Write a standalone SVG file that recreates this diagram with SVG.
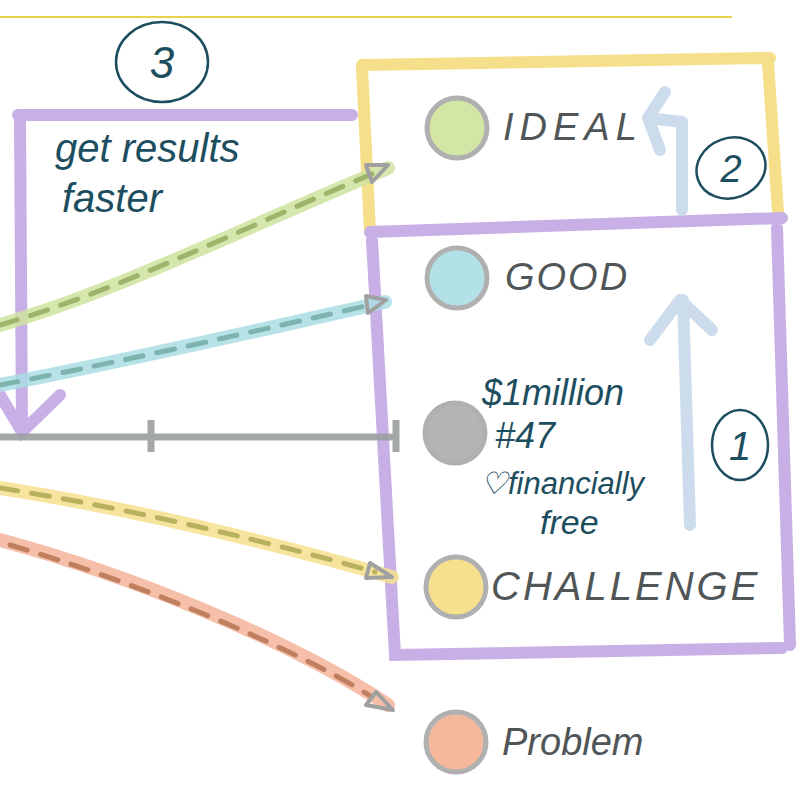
<svg xmlns="http://www.w3.org/2000/svg" width="800" height="800" viewBox="0 0 800 800">
<style>
.hand{font-family:"Liberation Sans",Arial,sans-serif;font-style:italic;fill:#505558}
.note{font-family:"Liberation Sans",Arial,sans-serif;font-style:italic;fill:#1d4e5f}
.dot{stroke:#b0b0b0;stroke-width:5}
.ink{fill:none;stroke:#1d4e5f;stroke-width:2.5}
.band{fill:none;stroke-width:14;stroke-linecap:round;opacity:0.85}
.dash{fill:none;stroke-width:5;stroke-dasharray:18 14;stroke-linecap:round}
.head{fill:none;stroke:#a0a0a0;stroke-width:4;stroke-linejoin:round}
.purple{fill:none;stroke:#c8b0e6;stroke-width:12;stroke-linecap:round}
.yellow{fill:none;stroke:#f6df8a;stroke-width:12;stroke-linecap:round}
.lblue{fill:none;stroke:#cddcec;stroke-width:12;stroke-linecap:round;stroke-linejoin:round}
</style>
<rect width="800" height="800" fill="#ffffff"/>
<line x1="0" y1="17" x2="732" y2="17" stroke="#e8d24a" stroke-width="2"/>

<g id="frame-ideal">
<path class="yellow" d="M362 65 L770 58 M768 62 L778 212 M362 68 L370 232"/>
</g>
<g id="frame-range">
<path class="purple" d="M370 232 L782 218 M372 240 L395 655 L782 648 M777 228 L790 645"/>
</g>
<g id="bracket-3">
<path class="purple" d="M18 115 L352 115 M20 120 L22 430 M0 395 L22 432 L60 395"/>
</g>

<g id="axis">
<path d="M0 437 L398 437 M151 420 L151 452 M396 420 L396 452" stroke="#9a9fa0" stroke-width="7" fill="none" opacity="0.9"/>
</g>

<g id="connectors">
<path class="band" stroke="#cfe3a0" d="M0 325 C120 290 250 225 388 168"/>
<path class="dash" stroke="#9eb46a" d="M0 325 C120 290 250 225 372 174"/>
<polygon class="head" points="366,165 388,165 372,182"/>
<path class="band" stroke="#a9dde4" d="M0 385 C130 360 260 330 385 302"/>
<path class="dash" stroke="#7fb3b0" d="M0 385 C130 360 260 330 370 305"/>
<polygon class="head" points="366,296 386,300 368,313"/>
<path class="band" stroke="#f6e08e" d="M0 488 C140 510 280 545 392 577"/>
<path class="dash" stroke="#b8b15e" d="M0 488 C140 510 280 545 375 572"/>
<polygon class="head" points="370,563 392,577 366,578"/>
<path class="band" stroke="#f5b49a" d="M0 540 C130 575 290 640 388 705"/>
<path class="dash" stroke="#c08060" d="M10 545 C130 580 290 645 372 697"/>
<polygon class="head" points="376,692 393,710 366,705"/>
<path class="lblue" d="M690 525 L683 300 M650 340 L680 300 L712 330"/>
<path class="lblue" d="M682 210 L682 122 L648 118 M665 92 L648 118 L660 150"/>
</g>

<g id="node-ideal">
<circle class="dot" cx="457" cy="128" r="30" fill="#d3e6a5"/>
<text class="hand" x="503" y="140" font-size="38" letter-spacing="6">IDEAL</text>
</g>
<g id="node-good">
<circle class="dot" cx="457" cy="278" r="30" fill="#b2e2e8"/>
<text class="hand" x="505" y="290" font-size="38" letter-spacing="2">GOOD</text>
</g>
<g id="node-mid">
<circle class="dot" cx="455" cy="433" r="30" fill="#b5b5b5"/>
</g>
<g id="node-challenge">
<circle class="dot" cx="456" cy="587" r="30" fill="#f6e08e"/>
<text class="hand" x="491" y="600" font-size="40" letter-spacing="3">CHALLENGE</text>
</g>
<g id="node-problem">
<circle class="dot" cx="456" cy="742" r="30" fill="#f5b89c"/>
<text class="hand" x="502" y="755" font-size="38">Problem</text>
</g>

<g id="label-3">
<ellipse class="ink" cx="162" cy="62" rx="46" ry="40"/>
<text class="note" x="162" y="78" font-size="44" text-anchor="middle">3</text>
</g>
<g id="label-2">
<ellipse class="ink" cx="731" cy="168" rx="35" ry="30" transform="rotate(-20 731 168)"/>
<text class="note" x="731" y="182" font-size="38" text-anchor="middle">2</text>
</g>
<g id="label-1">
<ellipse class="ink" cx="740" cy="445" rx="28" ry="35"/>
<text class="note" x="740" y="460" font-size="40" text-anchor="middle">1</text>
</g>

<g id="note-faster">
<text class="note" x="55" y="162" font-size="40">get results</text>
<text class="note" x="62" y="212" font-size="40">faster</text>
</g>
<g id="note-goals">
<text class="note" x="482" y="405" font-size="36">$1million</text>
<text class="note" x="495" y="448" font-size="36">#47</text>
<text class="note" x="480" y="494" font-size="31">♡financially</text>
<text class="note" x="540" y="534" font-size="34">free</text>
</g>
</svg>
